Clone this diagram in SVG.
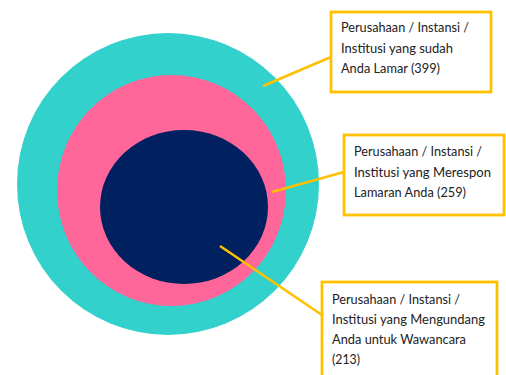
<svg xmlns="http://www.w3.org/2000/svg" width="506" height="375" viewBox="0 0 506 375">
<style>
.box{fill:#fff;stroke:#FFC000;stroke-width:2.8}
.lbl{font-family:Lato,"Liberation Sans",sans-serif;font-size:14px;fill:#222}
.conn{stroke:#FFC000;stroke-width:2.6;fill:none}
</style>
<rect width="506" height="375" fill="#fff"/>
<g id="circles">
<ellipse id="outer" cx="168" cy="184" rx="151" ry="151" fill="#33D1CC"/>
<ellipse id="middle" cx="171.5" cy="190.5" rx="114.5" ry="115.5" fill="#FF6699"/>
<ellipse id="inner" cx="184" cy="207" rx="84" ry="77" fill="#002060"/>
</g>
<g id="connectors">
<line class="conn" x1="263" y1="86" x2="331" y2="57"/>
<line class="conn" x1="272" y1="192" x2="344" y2="172"/>
<line class="conn" x1="220" y1="246" x2="322" y2="315"/>
</g>
<g id="label1">
<rect class="box" x="331" y="12" width="160" height="80"/>
<text class="lbl" x="341" y="32" textLength="128" lengthAdjust="spacingAndGlyphs">Perusahaan / Instansi /</text>
<text class="lbl" x="341" y="53" textLength="112" lengthAdjust="spacingAndGlyphs">Institusi yang sudah</text>
<text class="lbl" x="341" y="73" textLength="99" lengthAdjust="spacingAndGlyphs">Anda Lamar (399)</text>
</g>
<g id="label2">
<rect class="box" x="344" y="135" width="160" height="80"/>
<text class="lbl" x="354" y="156" textLength="128" lengthAdjust="spacingAndGlyphs">Perusahaan / Instansi /</text>
<text class="lbl" x="354" y="177" textLength="137" lengthAdjust="spacingAndGlyphs">Institusi yang Merespon</text>
<text class="lbl" x="354" y="197" textLength="112" lengthAdjust="spacingAndGlyphs">Lamaran Anda (259)</text>
</g>
<g id="label3">
<rect class="box" x="322" y="282" width="175" height="110"/>
<text class="lbl" x="332" y="304" textLength="128" lengthAdjust="spacingAndGlyphs">Perusahaan / Instansi /</text>
<text class="lbl" x="332" y="324" textLength="153" lengthAdjust="spacingAndGlyphs">Institusi yang Mengundang</text>
<text class="lbl" x="332" y="344" textLength="134" lengthAdjust="spacingAndGlyphs">Anda untuk Wawancara</text>
<text class="lbl" x="332" y="364" textLength="28" lengthAdjust="spacingAndGlyphs">(213)</text>
</g>
</svg>
